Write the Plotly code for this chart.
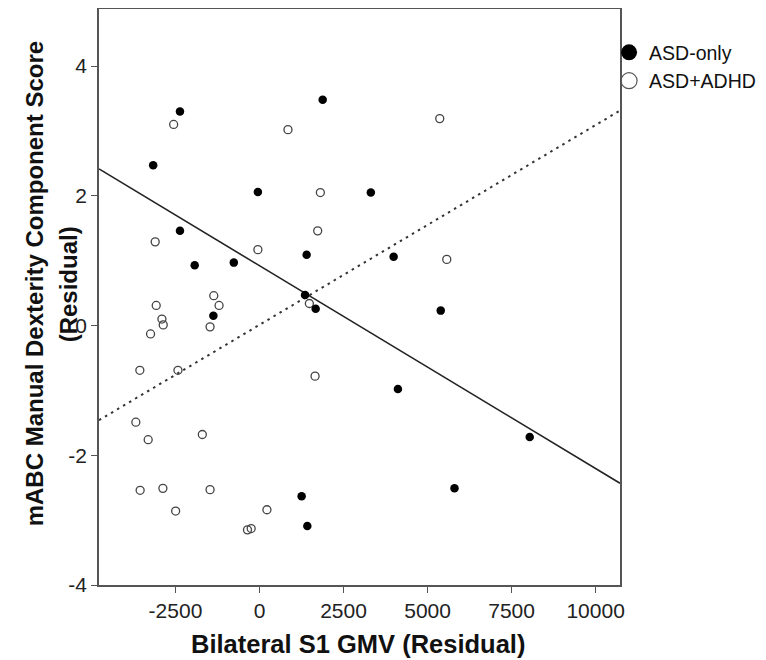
import plotly.graph_objects as go

# ASD-only (filled)
asd_only_x = [-2366, 1880, -3163, -48, -2366, -1928, -764, 1402, 1355, 1671, -1372,
              3312, 3990, 5392, 4118, 8039, 5801, 1253, 1423]
asd_only_y = [3.30, 3.48, 2.47, 2.06, 1.46, 0.93, 0.97, 1.09, 0.47, 0.26, 0.15,
              2.05, 1.06, 0.23, -0.98, -1.72, -2.51, -2.63, -3.09]

# ASD+ADHD (open)
asd_adhd_x = [-2554, 847, 1811, 1731, -48, -3103, -3073, -1361, -1203, 1483, -2903,
              -2864, -3241, -1471, -3560, -2426, 1653, -3679, -3312, -1701, -3551,
              -2874, -1471, -2495, 221, -358, -248, 5362, 5571]
asd_adhd_y = [3.10, 3.02, 2.05, 1.46, 1.17, 1.29, 0.31, 0.46, 0.31, 0.34, 0.10,
              0.01, -0.13, -0.02, -0.69, -0.69, -0.78, -1.49, -1.76, -1.68, -2.54,
              -2.51, -2.53, -2.86, -2.84, -3.15, -3.13, 3.19, 1.02]

# Fit lines (intercept, slope)
fit_solid = (0.922, -3.126e-4)
fit_dotted = (0.011, 3.08e-4)

x_range = [-4775, 10725]
y_range = [-4, 4.88]
x_ticks = [-2500, 0, 2500, 5000, 7500, 10000]
x_ticktext = ["-2500", "0", "2500", "5000", "7500", "10000"]
y_ticks = [-4, -2, 0, 2, 4]
y_ticktext = ["-4", "-2", "0", "2", "4"]

FONT = "Liberation Sans, Arial, Helvetica, sans-serif"

fig = go.Figure()

def line_pts(fit):
    xs = x_range
    return xs, [fit[0] + fit[1] * v for v in xs]

xs, ys = line_pts(fit_solid)
fig.add_trace(go.Scatter(x=xs, y=ys, mode="lines", line=dict(color="#222", width=1.6),
                         showlegend=False, hoverinfo="skip"))
xs, ys = line_pts(fit_dotted)
fig.add_trace(go.Scatter(x=xs, y=ys, mode="lines",
                         line=dict(color="#333", width=2, dash="2.5px,4.5px"),
                         showlegend=False, hoverinfo="skip"))

fig.add_trace(go.Scatter(x=asd_adhd_x, y=asd_adhd_y, mode="markers", showlegend=False,
                         marker=dict(symbol="circle-open", size=8, color="#444",
                                     line=dict(width=1.3, color="#444"))))
fig.add_trace(go.Scatter(x=asd_only_x, y=asd_only_y, mode="markers", showlegend=False,
                         marker=dict(symbol="circle", size=8.5, color="black")))

# legend entries
fig.add_trace(go.Scatter(x=[None], y=[None], mode="markers", name="ASD-only",
                         marker=dict(symbol="circle", size=16, color="black")))
fig.add_trace(go.Scatter(x=[None], y=[None], mode="markers", name="ASD+ADHD",
                         marker=dict(symbol="circle-open", size=16, color="#555",
                                     line=dict(width=1.2, color="#555"))))

fig.update_layout(
    width=758, height=652,
    margin=dict(l=91, r=146, t=1, b=75, autoexpand=False),
    paper_bgcolor="white", plot_bgcolor="white",
    font=dict(family=FONT, color="#222", size=21),
    legend=dict(x=0.979, y=0.958, xanchor="left", yanchor="top",
                font=dict(family=FONT, size=19.5, color="#111"), itemsizing="trace",
                tracegroupgap=0, bgcolor="rgba(0,0,0,0)"),
    showlegend=True,
)
fig.update_xaxes(range=x_range, tickvals=x_ticks, ticktext=x_ticktext, ticks="outside", ticklen=6,
                 tickcolor="#555", showline=True, linecolor="#555", linewidth=1.5,
                 mirror=True, showgrid=False, zeroline=False, automargin=False,
                 tickfont=dict(family=FONT, size=21, color="#222"))
fig.update_yaxes(range=y_range, tickvals=y_ticks, ticktext=y_ticktext, ticks="outside", ticklen=6,
                 tickcolor="#555", showline=True, linecolor="#555", linewidth=1.5,
                 mirror=True, showgrid=False, zeroline=False, automargin=False,
                 tickfont=dict(family=FONT, size=21, color="#222"))

# axis titles
fig.add_annotation(text="<b>Bilateral S1 GMV (Residual)</b>", xref="paper", yref="paper",
                   x=0.498, y=0, yshift=-59, showarrow=False,
                   font=dict(family=FONT, size=25.5, color="#111"), xanchor="center", yanchor="middle")
fig.add_annotation(text="<b>mABC Manual Dexterity Component Score</b>", xref="paper", yref="paper",
                   x=0, y=0.522, xshift=-65, textangle=-90, showarrow=False,
                   font=dict(family=FONT, size=24, color="#111"), xanchor="center", yanchor="middle")
fig.add_annotation(text="<b>(Residual)</b>", xref="paper", yref="paper",
                   x=0, y=0.522, xshift=-31, textangle=-90, showarrow=False,
                   font=dict(family=FONT, size=24, color="#111"), xanchor="center", yanchor="middle")

fig.write_html("out.html")
